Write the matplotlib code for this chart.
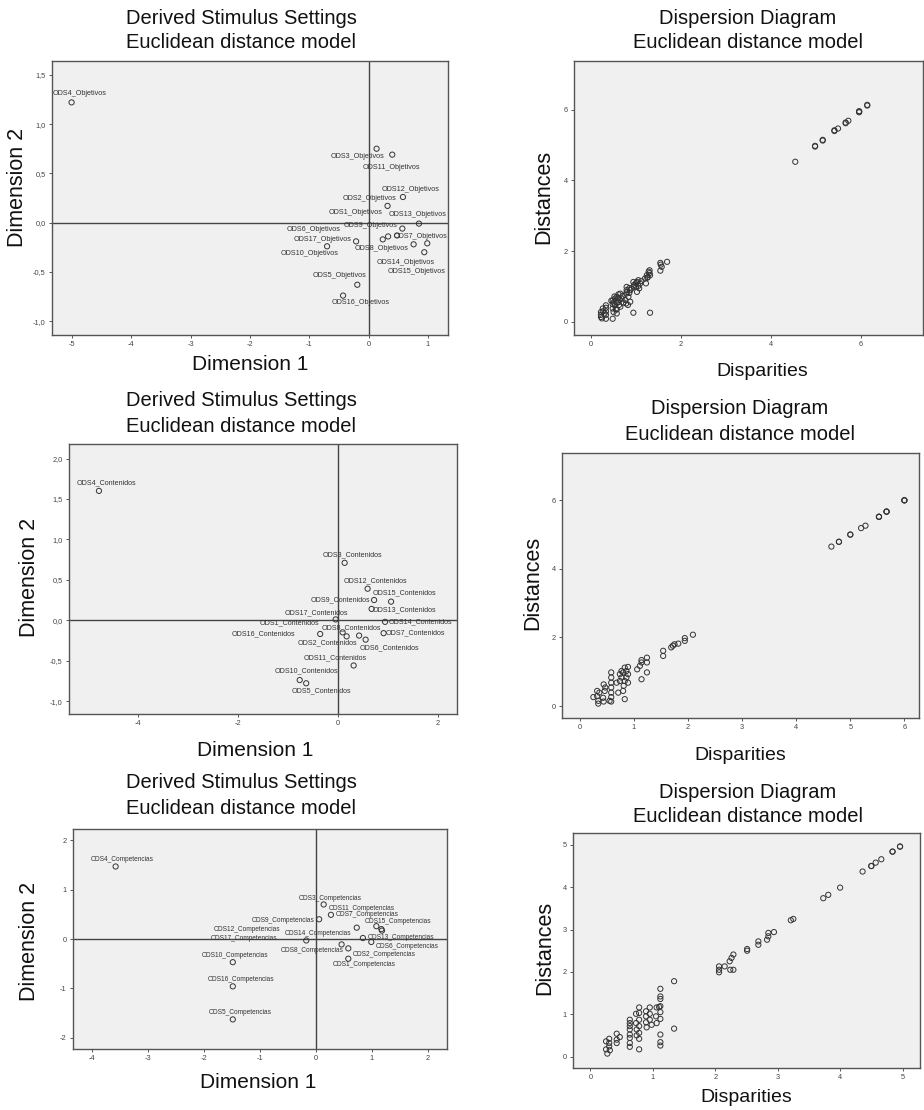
import matplotlib
matplotlib.use('Agg')
import matplotlib.pyplot as plt
from matplotlib.ticker import FuncFormatter

plt.rcParams['font.family'] = ['Liberation Sans', 'DejaVu Sans']
plt.rcParams['axes.unicode_minus'] = False

W, H = 924, 1110

# ---- data: derived stimulus configurations ----
ods_names = ['ODS%d' % i for i in range(1, 18)]

obj_x = [0.48, 0.32, 0.135, -5.01, -0.19, 0.99, 0.33, 0.24, 0.57, -0.70,
         0.40, 0.58, 0.85, 0.76, 0.94, -0.43, -0.21]
obj_y = [-0.13, 0.17, 0.75, 1.22, -0.63, -0.21, -0.14, -0.17, -0.06, -0.24,
         0.69, 0.26, -0.01, -0.22, -0.30, -0.74, -0.19]

con_x = [0.09, 0.42, 0.13, -4.79, -0.64, 0.55, 0.91, 0.17, 0.72, -0.77,
         0.31, 0.59, 0.67, 0.94, 1.06, -0.36, -0.05]
con_y = [-0.15, -0.19, 0.71, 1.60, -0.78, -0.24, -0.16, -0.20, 0.25, -0.74,
         -0.56, 0.39, 0.14, -0.02, 0.23, -0.17, 0.01]

com_x = [0.58, 0.58, 0.14, -3.57, -1.48, 0.99, 0.27, 0.46, 0.06, -1.48,
         0.73, 1.17, 0.84, -0.17, 1.08, -1.48, 1.18]
com_y = [-0.40, -0.19, 0.70, 1.47, -1.63, -0.06, 0.49, -0.11, 0.40, -0.47,
         0.23, 0.20, 0.02, -0.03, 0.26, -0.96, 0.17]

# ---- data: dispersion (disparities vs distances) ----
disp_obj = [0.22, 0.22, 0.22, 0.24, 0.26, 0.26, 0.30, 0.33, 0.33, 0.33, 0.33, 0.33,
            0.45, 0.48, 0.48, 0.48, 0.48, 0.50, 0.53, 0.53, 0.55, 0.57, 0.57, 0.57,
            0.57, 0.61, 0.61, 0.63, 0.65, 0.65, 0.68, 0.70, 0.76, 0.78, 0.78, 0.79,
            0.79, 0.82, 0.83, 0.85, 0.87, 0.87, 0.90, 0.94, 0.94, 0.96, 1.00, 1.02,
            1.02, 1.05, 1.07, 1.09, 1.12, 1.20, 1.22, 1.24, 1.26, 1.30, 1.30, 1.31,
            1.31, 1.54, 1.54, 1.55, 1.57, 1.69, 0.50, 0.52, 0.60, 0.62, 0.72, 0.80,
            0.85, 0.95, 1.00, 1.05, 1.25, 1.28,
            4.54, 4.98, 4.98, 5.15, 5.15, 5.41, 5.41, 5.49, 5.66, 5.66, 5.72, 5.96,
            5.96, 5.96, 6.14, 6.14]
dist_obj = [0.14, 0.28, 0.20, 0.10, 0.38, 0.30, 0.24, 0.47, 0.40, 0.09, 0.20, 0.30,
            0.60, 0.09, 0.38, 0.61, 0.50, 0.28, 0.47, 0.66, 0.36, 0.71, 0.35, 0.24,
            0.55, 0.57, 0.78, 0.64, 0.80, 0.43, 0.66, 0.74, 0.62, 0.80, 0.52, 0.99,
            0.90, 0.48, 0.71, 0.96, 0.57, 0.90, 0.95, 1.13, 0.26, 1.05, 0.99, 0.85,
            1.13, 1.18, 0.95, 1.09, 1.16, 1.23, 1.09, 1.32, 1.27, 1.46, 1.38, 1.32,
            0.26, 1.67, 1.45, 1.62, 1.56, 1.70, 0.55, 0.72, 0.68, 0.48, 0.55, 0.85,
            0.82, 1.00, 1.10, 1.02, 1.25, 1.42,
            4.53, 4.96, 4.98, 5.13, 5.15, 5.40, 5.42, 5.47, 5.62, 5.64, 5.69, 5.93,
            5.95, 5.96, 6.12, 6.14]

disp_con = [0.25, 0.32, 0.32, 0.34, 0.34, 0.36, 0.43, 0.44, 0.44, 0.46, 0.47, 0.55,
            0.58, 0.58, 0.58, 0.58, 0.58, 0.58, 0.58, 0.68, 0.71, 0.74, 0.74, 0.77,
            0.77, 0.80, 0.80, 0.83, 0.83, 0.83, 0.86, 0.86, 0.89, 0.89, 0.89, 0.81,
            1.06, 1.11, 1.14, 1.14, 1.14, 1.24, 1.24, 1.24, 1.54, 1.54, 1.69, 1.72,
            1.75, 1.82, 1.94, 1.94, 2.09,
            4.65, 4.79, 4.79, 5.00, 5.00, 5.20, 5.28, 5.53, 5.53, 5.53, 5.67, 5.67,
            5.67, 6.00, 6.00, 6.00]
dist_con = [0.26, 0.44, 0.29, 0.15, 0.07, 0.39, 0.24, 0.13, 0.63, 0.44, 0.54, 0.15,
            0.98, 0.83, 0.68, 0.54, 0.39, 0.26, 0.13, 0.68, 0.39, 0.93, 0.73, 1.02,
            0.83, 0.44, 0.98, 1.12, 0.73, 0.20, 1.02, 0.83, 1.14, 0.93, 0.68, 0.59,
            1.07, 1.17, 1.34, 1.27, 0.78, 1.41, 1.27, 0.98, 1.61, 1.46, 1.71, 1.76,
            1.80, 1.82, 1.98, 1.90, 2.08,
            4.65, 4.79, 4.79, 5.00, 5.00, 5.19, 5.26, 5.52, 5.52, 5.52, 5.67, 5.67,
            5.67, 6.00, 6.00, 6.00]

disp_com = [0.25, 0.25, 0.27, 0.30, 0.30, 0.30, 0.31, 0.42, 0.42, 0.42, 0.47, 0.63,
            0.63, 0.63, 0.63, 0.63, 0.63, 0.63, 0.63, 0.73, 0.73, 0.74, 0.74, 0.78,
            0.78, 0.78, 0.78, 0.78, 0.78, 0.78, 0.89, 0.89, 0.89, 0.90, 0.95, 0.95,
            0.95, 0.98, 1.05, 1.06, 1.06, 1.10, 1.12, 1.12, 1.12, 1.12, 1.12, 1.12,
            1.12, 1.12, 1.12, 1.34, 1.34,
            2.06, 2.06, 2.06, 2.15, 2.23, 2.24, 2.26, 2.29, 2.29, 2.51, 2.51, 2.69,
            2.69, 2.83, 2.85, 2.85, 2.94, 3.21, 3.25, 3.73, 3.81, 4.00, 4.36, 4.50,
            4.50, 4.57, 4.66, 4.84, 4.84, 4.96, 4.96]
dist_com = [0.36, 0.17, 0.07, 0.32, 0.42, 0.24, 0.15, 0.40, 0.54, 0.32, 0.46, 0.87,
            0.79, 0.72, 0.64, 0.52, 0.44, 0.32, 0.23, 1.01, 0.79, 0.64, 0.50, 1.16,
            1.03, 0.87, 0.72, 0.56, 0.42, 0.17, 1.07, 0.95, 0.81, 0.69, 1.16, 1.01,
            0.87, 0.75, 0.95, 1.16, 0.79, 1.17, 1.60, 1.42, 1.36, 1.19, 1.05, 0.89,
            0.52, 0.34, 0.26, 1.78, 0.66,
            2.13, 2.05, 1.99, 2.13, 2.25, 2.05, 2.33, 2.41, 2.05, 2.54, 2.50, 2.72,
            2.64, 2.76, 2.92, 2.84, 2.94, 3.22, 3.25, 3.74, 3.82, 3.99, 4.37, 4.50,
            4.50, 4.58, 4.66, 4.84, 4.84, 4.96, 4.96]

# label offsets in pixels (layout only)
obj_off = [(-41, 23), (-18, 7), (-19, -8), (8, 9), (-18, 9), (-114, 14), (32, 0),
           (-1, -9), (-32, 3), (-18, -7), (-1, -13), (8, 8), (-1, 9), (-8, -18),
           (-8, -19), (18, -7), (-34, 2)]
con_off = [(-53, 10), (-32, -7), (8, 8), (7, 8), (15, -7), (24, -8), (32, 0),
           (5, 9), (-34, 0), (7, 9), (-18, 8), (8, 8), (33, -1), (35, 0),
           (13, 9), (-57, 0), (-19, 7)]
com_off = [(16, -6), (36, -6), (7, 6), (7, 7), (7, 7), (36, -5), (36, 0),
           (-29, -6), (-36, -1), (2, 7), (5, 19), (-134, 0), (38, 1), (12, 7),
           (22, 5), (8, 7), (-138, -8)]

fig = plt.figure(figsize=(W / 100, H / 100), dpi=100)


def make_axes(l, t, r, b):
    return fig.add_axes([l / W, 1 - b / H, (r - l) / W, (b - t) / H])


def style(ax, xlim, ylim, xticks, yticks, comma_y=False):
    ax.set_facecolor('#f0f0f0')
    for s in ax.spines.values():
        s.set_color('#555555')
        s.set_linewidth(1.0)
    ax.set_xlim(xlim)
    ax.set_ylim(ylim)
    ax.set_xticks(xticks)
    ax.set_yticks(yticks)
    ax.tick_params(direction='out', length=2.5, width=0.7, colors='#555555',
                   labelsize=5.3, labelcolor='#444444', pad=2)
    ax.xaxis.set_major_formatter(FuncFormatter(lambda v, p: '%d' % round(v)))
    if comma_y:
        ax.yaxis.set_major_formatter(FuncFormatter(lambda v, p: ('%.1f' % v).replace('.', ',')))
    else:
        ax.yaxis.set_major_formatter(FuncFormatter(lambda v, p: '%d' % round(v)))


def stim(ax, xs, ys, suffix, offs, fs):
    ax.axhline(0, color='#444444', lw=1.0, zorder=1)
    ax.axvline(0, color='#444444', lw=1.0, zorder=1)
    ax.scatter(xs, ys, s=14, facecolors='none', edgecolors='#333333', linewidths=0.7, zorder=3)
    for name, x, y, (dx, dy) in zip(ods_names, xs, ys, offs):
        ax.annotate(name + '_' + suffix, (x, y), xytext=(dx, dy), textcoords='offset pixels',
                    ha='center', va='center', fontsize=fs, color='#333333', zorder=4)


def disp(ax, xs, ys):
    ax.scatter(xs, ys, s=14, facecolors='none', edgecolors='#333333', linewidths=0.7, zorder=3)


def txt(x, y, s, size, rot=0):
    fig.text(x / W, 1 - y / H, s, ha='center', va='center', fontsize=size, rotation=rot, color='#111111')


# top row
ax1 = make_axes(52, 61, 448, 335)
style(ax1, (-5.34, 1.34), (-1.14, 1.64), range(-5, 2), [-1, -0.5, 0, 0.5, 1, 1.5], comma_y=True)
stim(ax1, obj_x, obj_y, 'Objetivos', obj_off, 5.2)

ax2 = make_axes(574, 61, 923, 335)
style(ax2, (-0.38, 7.38), (-0.37, 7.38), [0, 2, 4, 6], [0, 2, 4, 6])
disp(ax2, disp_obj, dist_obj)

# middle row
ax3 = make_axes(69, 444, 457, 714)
style(ax3, (-5.39, 2.38), (-1.16, 2.18), [-4, -2, 0, 2], [-1, -0.5, 0, 0.5, 1, 1.5, 2], comma_y=True)
stim(ax3, con_x, con_y, 'Contenidos', con_off, 5.1)

ax4 = make_axes(562, 453, 919, 718)
style(ax4, (-0.33, 6.27), (-0.35, 7.38), range(0, 7), [0, 2, 4, 6])
disp(ax4, disp_con, dist_con)

# bottom row
ax5 = make_axes(73, 829, 447, 1049)
style(ax5, (-4.33, 2.34), (-2.23, 2.23), range(-4, 3), range(-2, 3))
stim(ax5, com_x, com_y, 'Competencias', com_off, 4.7)

ax6 = make_axes(573, 833, 920, 1068)
style(ax6, (-0.28, 5.28), (-0.27, 5.28), range(0, 6), range(0, 6))
disp(ax6, disp_com, dist_com)

# titles and axis labels
t1 = 'Derived Stimulus Settings'
t2 = 'Euclidean distance model'
t3 = 'Dispersion Diagram'
for cy in (18, 401, 783):
    txt(241, cy, t1, 14.5)
    txt(241, cy + 25, t2, 14.5)
txt(748, 18, t3, 14.5)
txt(748, 43, t2, 14.5)
txt(740, 408, t3, 14.5)
txt(740, 434, t2, 14.5)
txt(748, 792, t3, 14.5)
txt(748, 817, t2, 14.5)

txt(250, 365, 'Dimension 1', 15)
txt(255, 750, 'Dimension 1', 15)
txt(258, 1082, 'Dimension 1', 15)
txt(18, 187, 'Dimension 2', 15.5, 90)
txt(30, 577, 'Dimension 2', 15.5, 90)
txt(30, 941, 'Dimension 2', 15.5, 90)

txt(762, 372, 'Disparities', 14)
txt(740, 756, 'Disparities', 14)
txt(746, 1097, 'Disparities', 14)
txt(544, 197, 'Distances', 15.5, 90)
txt(533, 583, 'Distances', 15.5, 90)
txt(545, 948, 'Distances', 15.5, 90)

fig.savefig('out.png', dpi=100, facecolor='white')
